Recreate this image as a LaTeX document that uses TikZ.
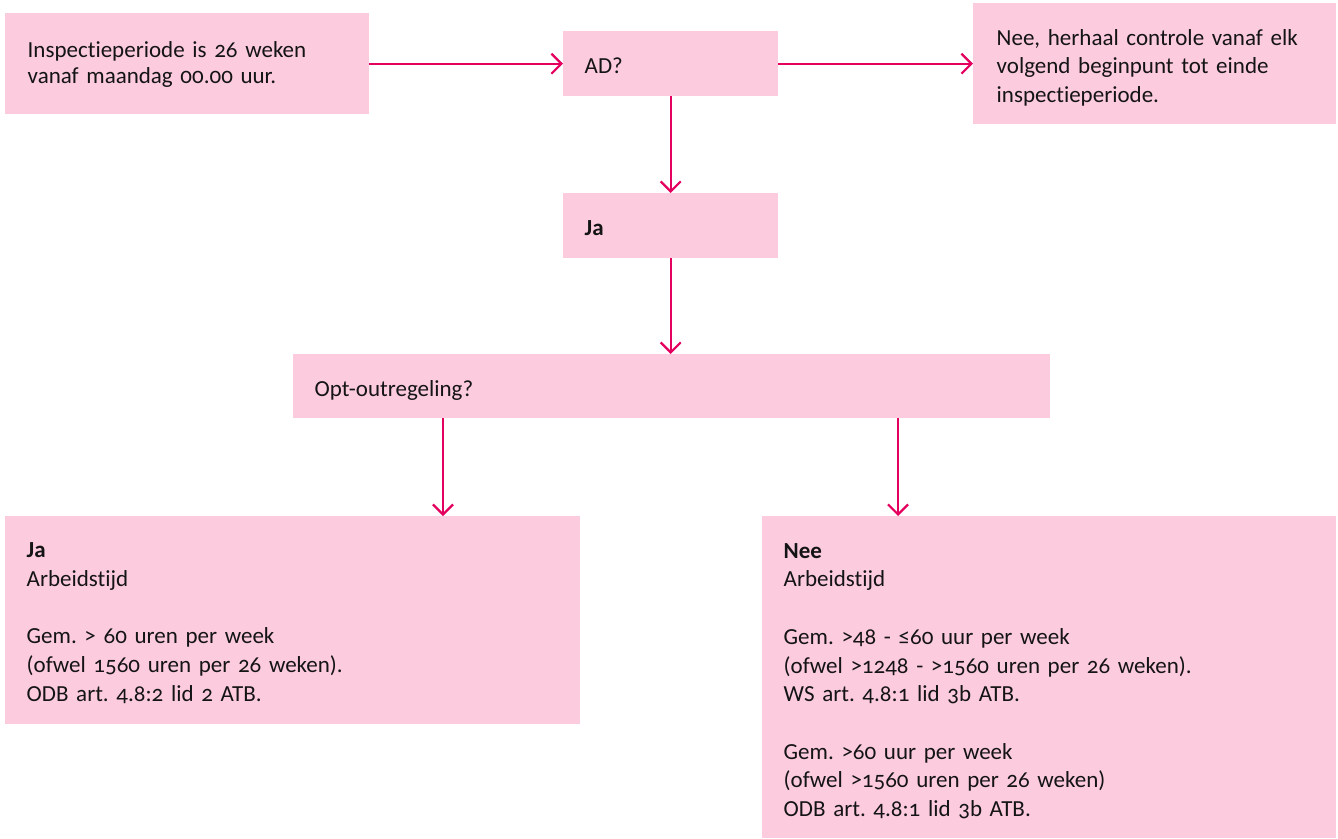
\documentclass[tikz,border=0pt]{standalone}
\usepackage{fontspec}
\setmainfont{Carlito}[Numbers=OldStyle, Ligatures=NoCommon, WordSpace=0.8]
\usetikzlibrary{arrows.meta}
\definecolor{boxpink}{RGB}{252,203,222}
\definecolor{linered}{RGB}{228,0,94}
\definecolor{txt}{RGB}{20,20,20}
\frenchspacing
\newcommand{\firstline}{\rule{0pt}{20pt}}
\begin{document}
\begin{tikzpicture}[x=1pt,y=-1pt,
  box/.style={fill=boxpink, inner sep=0pt, anchor=north west},
  lbl/.style={anchor=north west, inner sep=0pt, align=left, text=txt,
    text width=520pt, font=\fontsize{23}{28.7}\selectfont},
  conn/.style={draw=linered, line width=2.2pt,
    -{Straight Barb[length=10pt,width=20pt,line width=2.2pt]}}]
\useasboundingbox (0,0) rectangle (1338,838);
% boxes
\node[box, minimum width=364pt, minimum height=101pt] (start) at (5,13) {};
\node[box, minimum width=215pt, minimum height=65pt] (ad) at (563,31) {};
\node[box, minimum width=363pt, minimum height=121pt] (neeherhaal) at (973,3) {};
\node[box, minimum width=215pt, minimum height=65pt] (ja) at (563,193) {};
\node[box, minimum width=757pt, minimum height=64pt] (opt) at (293,354) {};
\node[box, minimum width=575pt, minimum height=208pt] (jabig) at (5,516) {};
\node[box, minimum width=574pt, minimum height=322pt] (neebig) at (762,516) {};
% texts
\node[lbl, font=\fontsize{23}{26}\selectfont] (t-start) at (27.5,37.3)
  {\firstline Inspectieperiode is 26 weken\\vanaf maandag 00.00 uur.};
\node[lbl] (t-ad) at (584.5,53) {\firstline AD?};
\node[lbl, font=\fontsize{23}{28.5}\selectfont] (t-neeherhaal) at (996.5,25)
  {\firstline Nee, herhaal controle vanaf elk\\volgend beginpunt tot einde\\inspectieperiode.};
\node[lbl] (t-ja) at (584.5,215) {\firstline\textbf{Ja}};
\node[lbl] (t-opt) at (314.5,376.7) {\firstline Opt-outregeling?};
\node[lbl] (t-jabig) at (26.5,537.3)
  {\firstline\textbf{Ja}\\Arbeidstijd\\[28.7pt]Gem. > 60 uren per week\\(ofwel 1560 uren per 26 weken).\\ODB art. 4.8:2 lid 2 ATB.};
\node[lbl] (t-neebig) at (783.5,538)
  {\firstline\textbf{Nee}\\Arbeidstijd\\[28.7pt]Gem. >48 - ≤60 uur per week\\(ofwel >1248 - >1560 uren per 26 weken).\\WS art. 4.8:1 lid 3b ATB.\\[28.7pt]Gem. >60 uur per week\\(ofwel >1560 uren per 26 weken)\\ODB art. 4.8:1 lid 3b ATB.};
% connectors
\coordinate (xl) at (443,0);
\coordinate (xr) at (898,0);
\draw[conn] (start.east) -- (start.east -| ad.west);
\draw[conn] (ad.east) -- (ad.east -| neeherhaal.west);
\draw[conn] (ad.south) -- (ja.north);
\draw[conn] (ja.south) -- (ja.south |- opt.north);
\draw[conn] (opt.south -| xl) -- (jabig.north -| xl);
\draw[conn] (opt.south -| xr) -- (neebig.north -| xr);
\end{tikzpicture}
\end{document}
